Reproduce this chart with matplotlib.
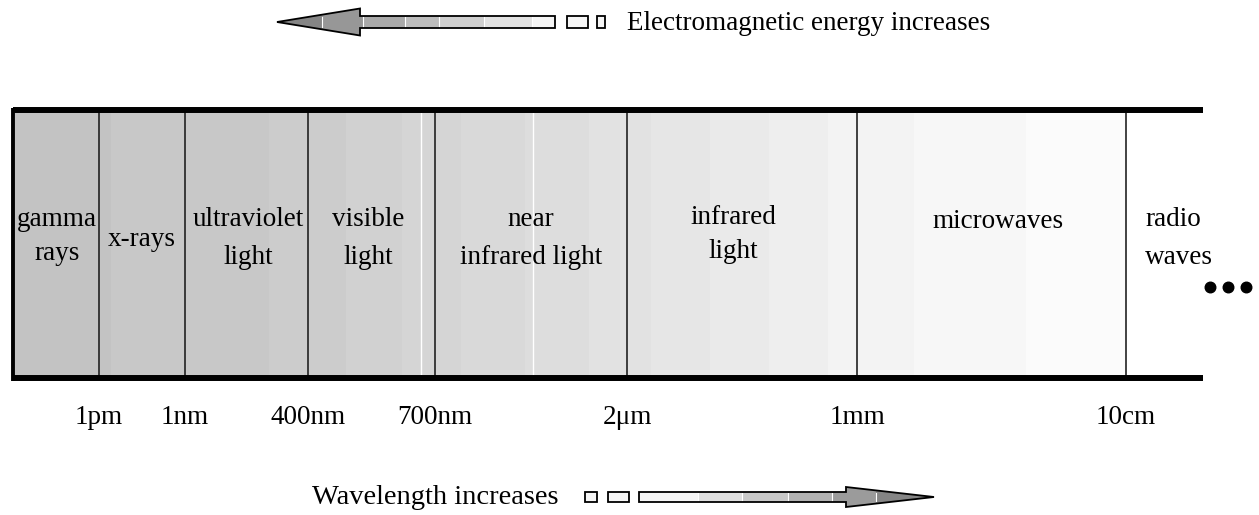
import numpy as np
import matplotlib.pyplot as plt
from matplotlib.patches import Polygon, Rectangle

plt.rcParams['font.family'] = ['Liberation Serif', 'DejaVu Serif']

# 区域名称与边界(像素坐标, 左->右)
bands = [['gamma', 'rays'], ['x-rays'], ['ultraviolet', 'light'], ['visible', 'light'],
         ['near', 'infrared light'], ['infrared', 'light'], ['microwaves'], ['radio', 'waves']]
band_x = [57, 142, 248, 368, 531, 733, 998, 1145]       # 文字位置
band_y = [[220, 253], [240], [220, 258], [220, 258],
          [220, 258], [218, 252], [222], [220, 258]]
edges = [99, 185, 308, 435, 627, 857, 1126]             # 分界线
tick_labels = ['1pm', '1nm', '400nm', '700nm', '2\u03bcm', '1mm', '10cm']
# 背景渐变灰度 (位置, 灰度)
grad_pos = [15, 300, 435, 627, 857, 1126]
grad_gray = [0.765, 0.795, 0.835, 0.885, 0.95, 0.99]

FS = 19.5
W, H = 1259, 515
fig = plt.figure(figsize=(W / 100, H / 100), dpi=100)
ax = fig.add_axes([0, 0, 1, 1])
ax.set_xlim(0, W)
ax.set_ylim(H, 0)
ax.axis('off')

top, bot, left, right = 110, 378, 13.5, 1203

# 背景渐变
xs = np.arange(15, 1126)
g = np.interp(xs, grad_pos, grad_gray)
g = np.round(g * 60) / 60  # 分段感
img = np.tile(g, (2, 1))
ax.imshow(img, cmap='gray', vmin=0, vmax=1, extent=[15, 1126, bot, top],
          aspect='auto', interpolation='nearest', zorder=1)
for wx in [421, 533]:
    ax.plot([wx, wx], [top, bot], color='white', lw=1.0, zorder=2)

# 外框
ax.plot([left, right], [top, top], color='black', lw=4.3, solid_capstyle='butt', zorder=4)
ax.plot([left, right], [bot, bot], color='black', lw=4.3, solid_capstyle='butt', zorder=4)
ax.plot([left, left], [top - 2.5, bot + 2.5], color='black', lw=2.8, solid_capstyle='butt', zorder=4)
for ex in edges:
    ax.plot([ex, ex], [top, bot], color='#222222', lw=1.2, zorder=3)

for lines, x, ys in zip(bands, band_x, band_y):
    ha = 'left' if lines[0] == 'radio' else 'center'
    for t, y in zip(lines, ys):
        ax.text(x, y, t, ha=ha, va='center', fontsize=FS, zorder=5)

for ex, lab in zip(edges, tick_labels):
    ax.text(ex, 417, lab, ha='center', va='center', fontsize=FS)

ax.plot([1210, 1228, 1246], [287, 287, 287], 'o', color='black', ms=7.6, zorder=5)


def arrow(tip, base, tail, yc, hs, hh, seps, boxes, dark, light):
    pts = [(tail, yc - hs), (base, yc - hs), (base, yc - hh), (tip, yc),
           (base, yc + hh), (base, yc + hs), (tail, yc + hs)]
    poly = Polygon(pts, closed=True, fc='none', ec='black', lw=1.3, zorder=6)
    ax.add_patch(poly)
    x0, x1 = min(tip, tail), max(tip, tail)
    # 分段渐变
    bounds = [x0] + sorted(seps) + [x1]
    n = len(bounds) - 1
    vals = np.linspace(dark, light, n) if tip < tail else np.linspace(light, dark, n)
    for k in range(n):
        r = Rectangle((bounds[k], yc - hh), bounds[k + 1] - bounds[k], 2 * hh,
                      fc=str(vals[k]), ec='none', zorder=5)
        ax.add_patch(r)
        r.set_clip_path(poly)
    for sx in seps:
        ax.plot([sx, sx], [yc - hs + 1, yc + hs - 1], color='white', lw=0.8, zorder=5.5)
    for bx0, bx1 in boxes:
        ax.add_patch(Rectangle((bx0, yc - hs), bx1 - bx0, 2 * hs, fc='#f6f6f6',
                               ec='black', lw=1.3, zorder=6))


arrow(277, 360, 555, 22, 6, 13.5, [322, 363, 405, 439, 484, 532],
      [(567, 588), (597, 605)], 0.52, 0.96)
ax.text(627, 24, 'Electromagnetic energy increases', ha='left', va='center', fontsize=FS)

arrow(934, 846, 639, 497, 5, 10, [698, 742, 788, 832, 876],
      [(608, 629), (585, 597)], 0.52, 0.96)
ax.text(312, 498, 'Wavelength increases', ha='left', va='center', fontsize=20.5)

fig.savefig('out.png', dpi=100)
